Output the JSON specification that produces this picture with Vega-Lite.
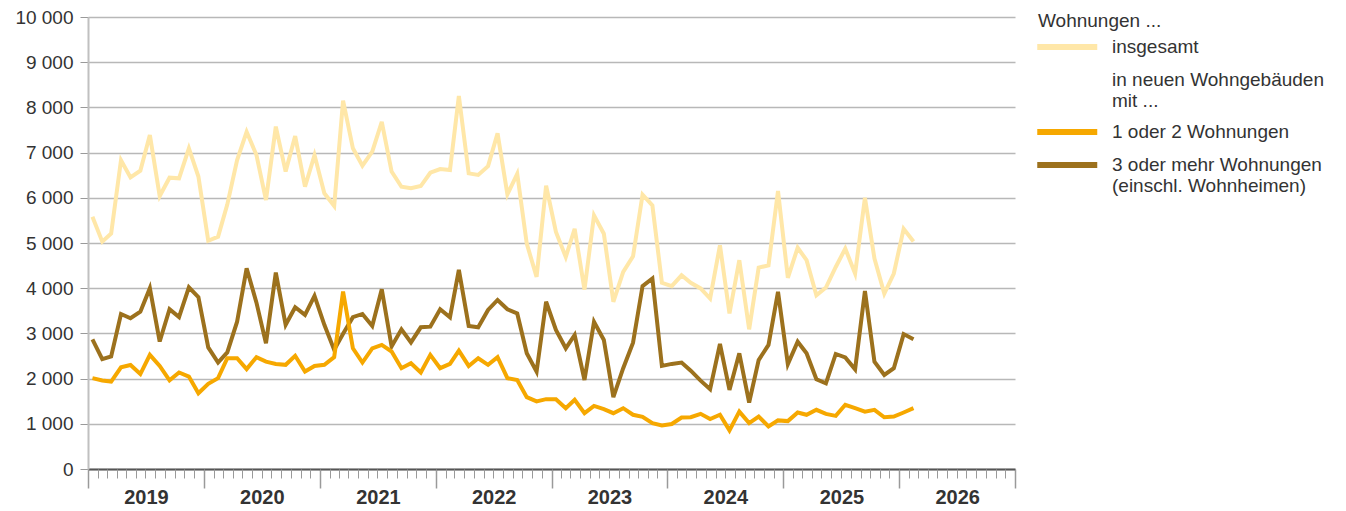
{
 "$schema": "https://vega.github.io/schema/vega-lite/v6.json",
 "width": 927,
 "height": 452,
 "autosize": {"type": "none"},
 "padding": {"left": 88, "top": 17, "right": 331, "bottom": 42},
 "background": "white",
 "config": {"view": {"stroke": null}, "font": "Liberation Sans"},
 "data": {"values": [
  {"d":"2019-01-15","insgesamt":5580,"1 oder 2 Wohnungen":2010,"3 oder mehr Wohnungen":2870},
  {"d":"2019-02-15","insgesamt":5030,"1 oder 2 Wohnungen":1960,"3 oder mehr Wohnungen":2430},
  {"d":"2019-03-15","insgesamt":5210,"1 oder 2 Wohnungen":1935,"3 oder mehr Wohnungen":2490},
  {"d":"2019-04-15","insgesamt":6830,"1 oder 2 Wohnungen":2250,"3 oder mehr Wohnungen":3430},
  {"d":"2019-05-15","insgesamt":6450,"1 oder 2 Wohnungen":2300,"3 oder mehr Wohnungen":3335},
  {"d":"2019-06-15","insgesamt":6600,"1 oder 2 Wohnungen":2100,"3 oder mehr Wohnungen":3480},
  {"d":"2019-07-15","insgesamt":7390,"1 oder 2 Wohnungen":2525,"3 oder mehr Wohnungen":4000},
  {"d":"2019-08-15","insgesamt":6040,"1 oder 2 Wohnungen":2280,"3 oder mehr Wohnungen":2820},
  {"d":"2019-09-15","insgesamt":6445,"1 oder 2 Wohnungen":1960,"3 oder mehr Wohnungen":3535},
  {"d":"2019-10-15","insgesamt":6430,"1 oder 2 Wohnungen":2135,"3 oder mehr Wohnungen":3360},
  {"d":"2019-11-15","insgesamt":7095,"1 oder 2 Wohnungen":2045,"3 oder mehr Wohnungen":4020},
  {"d":"2019-12-15","insgesamt":6470,"1 oder 2 Wohnungen":1675,"3 oder mehr Wohnungen":3800},
  {"d":"2020-01-15","insgesamt":5050,"1 oder 2 Wohnungen":1885,"3 oder mehr Wohnungen":2690},
  {"d":"2020-02-15","insgesamt":5140,"1 oder 2 Wohnungen":2010,"3 oder mehr Wohnungen":2355},
  {"d":"2020-03-15","insgesamt":5850,"1 oder 2 Wohnungen":2450,"3 oder mehr Wohnungen":2580},
  {"d":"2020-04-15","insgesamt":6835,"1 oder 2 Wohnungen":2450,"3 oder mehr Wohnungen":3260},
  {"d":"2020-05-15","insgesamt":7460,"1 oder 2 Wohnungen":2210,"3 oder mehr Wohnungen":4440},
  {"d":"2020-06-15","insgesamt":6945,"1 oder 2 Wohnungen":2475,"3 oder mehr Wohnungen":3680},
  {"d":"2020-07-15","insgesamt":5950,"1 oder 2 Wohnungen":2375,"3 oder mehr Wohnungen":2780},
  {"d":"2020-08-15","insgesamt":7575,"1 oder 2 Wohnungen":2325,"3 oder mehr Wohnungen":4345},
  {"d":"2020-09-15","insgesamt":6580,"1 oder 2 Wohnungen":2305,"3 oder mehr Wohnungen":3190},
  {"d":"2020-10-15","insgesamt":7365,"1 oder 2 Wohnungen":2505,"3 oder mehr Wohnungen":3580},
  {"d":"2020-11-15","insgesamt":6245,"1 oder 2 Wohnungen":2155,"3 oder mehr Wohnungen":3410},
  {"d":"2020-12-15","insgesamt":6945,"1 oder 2 Wohnungen":2280,"3 oder mehr Wohnungen":3830},
  {"d":"2021-01-15","insgesamt":6100,"1 oder 2 Wohnungen":2305,"3 oder mehr Wohnungen":3190},
  {"d":"2021-02-15","insgesamt":5820,"1 oder 2 Wohnungen":2475,"3 oder mehr Wohnungen":2635},
  {"d":"2021-03-15","insgesamt":8150,"1 oder 2 Wohnungen":3925,"3 oder mehr Wohnungen":2990},
  {"d":"2021-04-15","insgesamt":7095,"1 oder 2 Wohnungen":2670,"3 oder mehr Wohnungen":3360},
  {"d":"2021-05-15","insgesamt":6710,"1 oder 2 Wohnungen":2355,"3 oder mehr Wohnungen":3430},
  {"d":"2021-06-15","insgesamt":7020,"1 oder 2 Wohnungen":2670,"3 oder mehr Wohnungen":3165},
  {"d":"2021-07-15","insgesamt":7680,"1 oder 2 Wohnungen":2745,"3 oder mehr Wohnungen":3975},
  {"d":"2021-08-15","insgesamt":6580,"1 oder 2 Wohnungen":2600,"3 oder mehr Wohnungen":2710},
  {"d":"2021-09-15","insgesamt":6245,"1 oder 2 Wohnungen":2230,"3 oder mehr Wohnungen":3090},
  {"d":"2021-10-15","insgesamt":6210,"1 oder 2 Wohnungen":2340,"3 oder mehr Wohnungen":2800},
  {"d":"2021-11-15","insgesamt":6260,"1 oder 2 Wohnungen":2135,"3 oder mehr Wohnungen":3135},
  {"d":"2021-12-15","insgesamt":6555,"1 oder 2 Wohnungen":2525,"3 oder mehr Wohnungen":3150},
  {"d":"2022-01-15","insgesamt":6635,"1 oder 2 Wohnungen":2230,"3 oder mehr Wohnungen":3535},
  {"d":"2022-02-15","insgesamt":6615,"1 oder 2 Wohnungen":2325,"3 oder mehr Wohnungen":3355},
  {"d":"2022-03-15","insgesamt":8250,"1 oder 2 Wohnungen":2620,"3 oder mehr Wohnungen":4405},
  {"d":"2022-04-15","insgesamt":6540,"1 oder 2 Wohnungen":2280,"3 oder mehr Wohnungen":3165},
  {"d":"2022-05-15","insgesamt":6505,"1 oder 2 Wohnungen":2450,"3 oder mehr Wohnungen":3135},
  {"d":"2022-06-15","insgesamt":6700,"1 oder 2 Wohnungen":2305,"3 oder mehr Wohnungen":3520},
  {"d":"2022-07-15","insgesamt":7425,"1 oder 2 Wohnungen":2475,"3 oder mehr Wohnungen":3740},
  {"d":"2022-08-15","insgesamt":6075,"1 oder 2 Wohnungen":2010,"3 oder mehr Wohnungen":3535},
  {"d":"2022-09-15","insgesamt":6530,"1 oder 2 Wohnungen":1970,"3 oder mehr Wohnungen":3440},
  {"d":"2022-10-15","insgesamt":4985,"1 oder 2 Wohnungen":1590,"3 oder mehr Wohnungen":2560},
  {"d":"2022-11-15","insgesamt":4250,"1 oder 2 Wohnungen":1495,"3 oder mehr Wohnungen":2155},
  {"d":"2022-12-15","insgesamt":6270,"1 oder 2 Wohnungen":1545,"3 oder mehr Wohnungen":3700},
  {"d":"2023-01-15","insgesamt":5245,"1 oder 2 Wohnungen":1545,"3 oder mehr Wohnungen":3075},
  {"d":"2023-02-15","insgesamt":4690,"1 oder 2 Wohnungen":1345,"3 oder mehr Wohnungen":2670},
  {"d":"2023-03-15","insgesamt":5315,"1 oder 2 Wohnungen":1530,"3 oder mehr Wohnungen":2965},
  {"d":"2023-04-15","insgesamt":3970,"1 oder 2 Wohnungen":1235,"3 oder mehr Wohnungen":1970},
  {"d":"2023-05-15","insgesamt":5610,"1 oder 2 Wohnungen":1395,"3 oder mehr Wohnungen":3255},
  {"d":"2023-06-15","insgesamt":5205,"1 oder 2 Wohnungen":1325,"3 oder mehr Wohnungen":2855},
  {"d":"2023-07-15","insgesamt":3700,"1 oder 2 Wohnungen":1235,"3 oder mehr Wohnungen":1590},
  {"d":"2023-08-15","insgesamt":4360,"1 oder 2 Wohnungen":1345,"3 oder mehr Wohnungen":2230},
  {"d":"2023-09-15","insgesamt":4705,"1 oder 2 Wohnungen":1200,"3 oder mehr Wohnungen":2795},
  {"d":"2023-10-15","insgesamt":6070,"1 oder 2 Wohnungen":1155,"3 oder mehr Wohnungen":4045},
  {"d":"2023-11-15","insgesamt":5830,"1 oder 2 Wohnungen":1015,"3 oder mehr Wohnungen":4215},
  {"d":"2023-12-15","insgesamt":4120,"1 oder 2 Wohnungen":965,"3 oder mehr Wohnungen":2280},
  {"d":"2024-01-15","insgesamt":4045,"1 oder 2 Wohnungen":995,"3 oder mehr Wohnungen":2325},
  {"d":"2024-02-15","insgesamt":4285,"1 oder 2 Wohnungen":1140,"3 oder mehr Wohnungen":2355},
  {"d":"2024-03-15","insgesamt":4120,"1 oder 2 Wohnungen":1145,"3 oder mehr Wohnungen":2175},
  {"d":"2024-04-15","insgesamt":3995,"1 oder 2 Wohnungen":1220,"3 oder mehr Wohnungen":1955},
  {"d":"2024-05-15","insgesamt":3770,"1 oder 2 Wohnungen":1105,"3 oder mehr Wohnungen":1765},
  {"d":"2024-06-15","insgesamt":4950,"1 oder 2 Wohnungen":1200,"3 oder mehr Wohnungen":2765},
  {"d":"2024-07-15","insgesamt":3440,"1 oder 2 Wohnungen":855,"3 oder mehr Wohnungen":1750},
  {"d":"2024-08-15","insgesamt":4620,"1 oder 2 Wohnungen":1270,"3 oder mehr Wohnungen":2560},
  {"d":"2024-09-15","insgesamt":3090,"1 oder 2 Wohnungen":1015,"3 oder mehr Wohnungen":1470},
  {"d":"2024-10-15","insgesamt":4455,"1 oder 2 Wohnungen":1160,"3 oder mehr Wohnungen":2410},
  {"d":"2024-11-15","insgesamt":4505,"1 oder 2 Wohnungen":940,"3 oder mehr Wohnungen":2745},
  {"d":"2024-12-15","insgesamt":6150,"1 oder 2 Wohnungen":1075,"3 oder mehr Wohnungen":3920},
  {"d":"2025-01-15","insgesamt":4230,"1 oder 2 Wohnungen":1060,"3 oder mehr Wohnungen":2320},
  {"d":"2025-02-15","insgesamt":4895,"1 oder 2 Wohnungen":1250,"3 oder mehr Wohnungen":2815},
  {"d":"2025-03-15","insgesamt":4620,"1 oder 2 Wohnungen":1200,"3 oder mehr Wohnungen":2560},
  {"d":"2025-04-15","insgesamt":3845,"1 oder 2 Wohnungen":1310,"3 oder mehr Wohnungen":1985},
  {"d":"2025-05-15","insgesamt":4015,"1 oder 2 Wohnungen":1220,"3 oder mehr Wohnungen":1895},
  {"d":"2025-06-15","insgesamt":4470,"1 oder 2 Wohnungen":1175,"3 oder mehr Wohnungen":2545},
  {"d":"2025-07-15","insgesamt":4875,"1 oder 2 Wohnungen":1420,"3 oder mehr Wohnungen":2470},
  {"d":"2025-08-15","insgesamt":4325,"1 oder 2 Wohnungen":1345,"3 oder mehr Wohnungen":2205},
  {"d":"2025-09-15","insgesamt":6000,"1 oder 2 Wohnungen":1270,"3 oder mehr Wohnungen":3940},
  {"d":"2025-10-15","insgesamt":4655,"1 oder 2 Wohnungen":1310,"3 oder mehr Wohnungen":2375},
  {"d":"2025-11-15","insgesamt":3880,"1 oder 2 Wohnungen":1145,"3 oder mehr Wohnungen":2080},
  {"d":"2025-12-15","insgesamt":4325,"1 oder 2 Wohnungen":1160,"3 oder mehr Wohnungen":2230},
  {"d":"2026-01-15","insgesamt":5315,"1 oder 2 Wohnungen":1250,"3 oder mehr Wohnungen":2985},
  {"d":"2026-02-15","insgesamt":5035,"1 oder 2 Wohnungen":1345,"3 oder mehr Wohnungen":2870}
 ]},
 "transform": [{"fold": ["insgesamt", "3 oder mehr Wohnungen", "1 oder 2 Wohnungen"], "as": ["s", "v"]}],
 "encoding": {
  "y": {"field": "v", "type": "quantitative",
   "scale": {"domain": [0, 10000], "nice": false},
   "axis": {"title": null, "values": [0,1000,2000,3000,4000,5000,6000,7000,8000,9000,10000],
    "labelExpr": "replace(format(datum.value, ','), ',', ' ')",
    "grid": true, "gridColor": "#b8b8b8", "gridWidth": 1.5,
    "domainColor": "#c0c0c0", "domainWidth": 2,
    "tickColor": "#9a9a9a", "tickSize": 8, "tickWidth": 1,
    "labelFontSize": 19, "labelColor": "#333333", "labelPadding": 7}}
 },
 "layer": [
  {"mark": {"type": "line", "strokeWidth": 4},
   "encoding": {
    "x": {"field": "d", "type": "temporal",
     "scale": {"type": "utc", "domain": [{"year": 2019, "month": 1, "date": 1, "utc": true}, {"year": 2027, "month": 1, "date": 1, "utc": true}]},
     "axis": {"orient": "bottom", "title": null, "labels": false, "grid": false,
      "values": [{"year": 2019, "utc": true}, {"year": 2020, "utc": true}, {"year": 2021, "utc": true}, {"year": 2022, "utc": true}, {"year": 2023, "utc": true}, {"year": 2024, "utc": true}, {"year": 2025, "utc": true}, {"year": 2026, "utc": true}, {"year": 2027, "utc": true}],
      "tickSize": 19, "tickColor": "#9a9a9a", "tickWidth": 1.5,
      "domainColor": "#555555", "domainWidth": 2}},
    "color": {"field": "s", "type": "nominal",
     "scale": {"domain": ["insgesamt", "neu", "1 oder 2 Wohnungen", "3 oder mehr Wohnungen"],
      "range": ["#FFE7A8", "rgba(0,0,0,0)", "#F6A800", "#9C711D"]},
     "legend": {"orient": "none", "legendX": 950, "legendY": -5, "padding": 0,
      "title": "Wohnungen ...", "titleFontSize": 19, "titleFontWeight": "normal", "titleColor": "#333333", "titlePadding": -2, "titleAnchor": "start",
      "symbolType": "M-1.25,0H2.75", "symbolSize": 900, "symbolStrokeWidth": 6,
      "labelFontSize": 19, "labelColor": "#333333", "labelOffset": 38, "labelLimit": 400, "rowPadding": 3,
      "labelExpr": "datum.label == 'neu' ? ['in neuen Wohngebäuden', 'mit ...'] : datum.label == '3 oder mehr Wohnungen' ? ['3 oder mehr Wohnungen', '(einschl. Wohnheimen)'] : datum.label"}}
   }},
  {"mark": {"type": "line", "opacity": 0},
   "encoding": {
    "x": {"field": "d", "type": "temporal",
     "scale": {"type": "utc", "domain": [{"year": 2019, "month": 1, "date": 1, "utc": true}, {"year": 2027, "month": 1, "date": 1, "utc": true}]},
     "axis": {"orient": "bottom", "title": null, "labels": false, "grid": false, "domain": false,
      "tickCount": {"interval": "month", "step": 1},
      "tickSize": 9, "tickColor": "#9a9a9a", "tickWidth": 1}},
    "detail": {"field": "s"}
   }},
  {"mark": {"type": "line", "opacity": 0},
   "encoding": {
    "x": {"field": "d", "type": "temporal",
     "scale": {"type": "utc", "domain": [{"year": 2019, "month": 1, "date": 1, "utc": true}, {"year": 2027, "month": 1, "date": 1, "utc": true}]},
     "axis": {"orient": "bottom", "title": null, "ticks": false, "grid": false, "domain": false,
      "values": [{"year": 2019, "utc": true}, {"year": 2020, "utc": true}, {"year": 2021, "utc": true}, {"year": 2022, "utc": true}, {"year": 2023, "utc": true}, {"year": 2024, "utc": true}, {"year": 2025, "utc": true}, {"year": 2026, "utc": true}],
      "labelExpr": "utcFormat(datum.value, '%Y')",
      "labelOffset": 58, "labelFontSize": 20, "labelFontWeight": "bold", "labelColor": "#333333",
      "labelPadding": 18, "labelFlush": false, "labelOverlap": false}},
    "detail": {"field": "s"}
   }}
 ],
 "resolve": {"axis": {"x": "independent"}}
}
